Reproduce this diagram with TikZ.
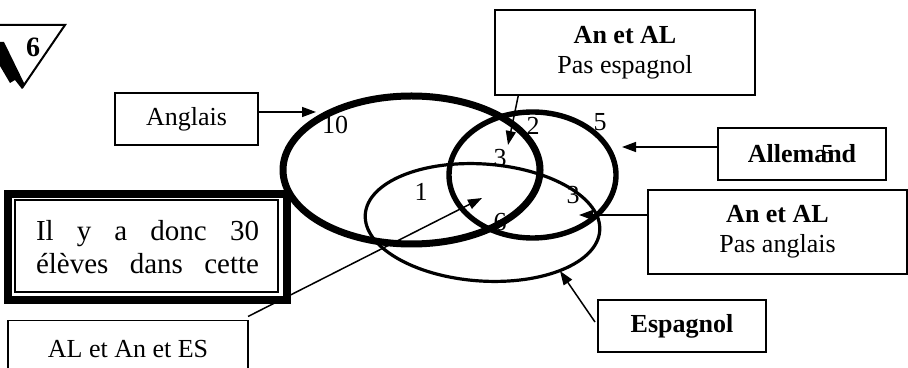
\documentclass[tikz,border=0pt]{standalone}
\usepackage{fontspec}
\setmainfont{Liberation Serif}
\usetikzlibrary{arrows.meta, calc}

\begin{document}
\begin{tikzpicture}[x=0.5pt, y=-0.5pt,
    boite/.style={draw, line width=0.75pt, inner sep=0pt, outer sep=0pt, align=center, font=\fontsize{13}{15}\selectfont},
    fleche/.style={-{Triangle[length=7pt, width=5pt]}, line width=0.75pt},
    nombre/.style={inner sep=0pt, font=\fontsize{13}{15}\selectfont}]
    % Units: 1 = one pixel of the 908x368 sheet, y going down
    \clip (0,0) rectangle (908,368);

    % Exercise number
    \draw[line width=1pt] (0,25) -- (65,25) -- (22,88);
    \fill (0,42) -- (4,42) -- (25,85) -- (22,89) -- (15,80) -- (10,83) -- (0,66) -- cycle;
    \node[inner sep=0pt, font=\bfseries\fontsize{14}{16}\selectfont] (numero) at (33,47) {6};

    % The three sets
    \draw[line width=3.5pt] (411.5,170) ellipse [x radius=128.5, y radius=74]; % Anglais
    \draw[line width=2.7pt] (532.5,175) ellipse [x radius=83.5, y radius=63];  % Allemand
    \draw[line width=1.6pt, rotate around={-4:(482.5,222.5)}] (482.5,222.5) ellipse [x radius=117.5, y radius=58.5]; % Espagnol

    % Counts
    \node[nombre] (nAng) at (335,124.5) {10};
    \node[nombre] (nAnAl) at (533,126) {2};
    \node[nombre] (nAl) at (600,122) {5};
    \node[nombre] (nTop) at (500,158) {3};
    \node[nombre] (nAnEs) at (421,192) {1};
    \node[nombre] (nAlEs) at (573,195) {3};
    \node[nombre] (nTous) at (500,222) {6};

    % Arrow tips on the diagram
    \coordinate (tipAng) at (316,112);
    \coordinate (tipPasEs) at (508,145);
    \coordinate (tipAl) at (622,147);
    \coordinate (tipPasAng) at (579,215);
    \coordinate (tipEs) at (560,271);
    \coordinate (tipTous) at (482,198);

    % Labels
    \node[boite, minimum width=71.5pt, minimum height=26pt] (anglais) at (186.5,119) {Anglais};
    \node[boite, minimum width=130pt, minimum height=42.5pt] (pasesp) at (625,52.5) {\textbf{An et AL}\\Pas espagnol};
    \node[boite, minimum width=84pt, minimum height=26pt] (allemand) at (802,154) {\textbf{Allema\makebox[0pt]{\mdseries 5}nd}};
    \node[boite, minimum width=129.5pt, minimum height=42pt] (pasang) at (777.5,232) {\textbf{An et AL}\\Pas anglais};
    \node[boite, minimum width=84pt, minimum height=26pt] (espagnol) at (682,326) {\textbf{Espagnol}};
    \node[boite, minimum width=120pt, minimum height=29pt] (tous) at (128,349.5) {AL et An et ES};

    \draw[fleche] (anglais.east |- tipAng) -- (tipAng);
    \draw[fleche] ($(pasesp.south west)!0.09!(pasesp.south east)$) -- (tipPasEs);
    \draw[fleche] (allemand.west |- tipAl) -- (tipAl);
    \draw[fleche] (pasang.west |- tipPasAng) -- (tipPasAng);
    \draw[fleche] ([xshift=-1.5pt, yshift=2pt]espagnol.west) -- (tipEs);
    \draw[fleche] ([yshift=2pt]tous.north east) -- (tipTous);

    % Conclusion box (hides the arrow behind it)
    \node[draw, line width=4pt, fill=white, inner sep=0pt, outer sep=0pt, minimum width=139.5pt, minimum height=53pt,
          align=left, font=\fontsize{14.5}{16.5}\selectfont] (bilan) at (147.5,247)
          {\makebox[111.5pt][s]{Il y a donc 30}\\\makebox[111.5pt][s]{élèves dans cette}};
    \draw[line width=0.6pt] ($(bilan.south west)+(7,-8)$) rectangle ($(bilan.north east)+(-9,6)$);
\end{tikzpicture}
\end{document}
